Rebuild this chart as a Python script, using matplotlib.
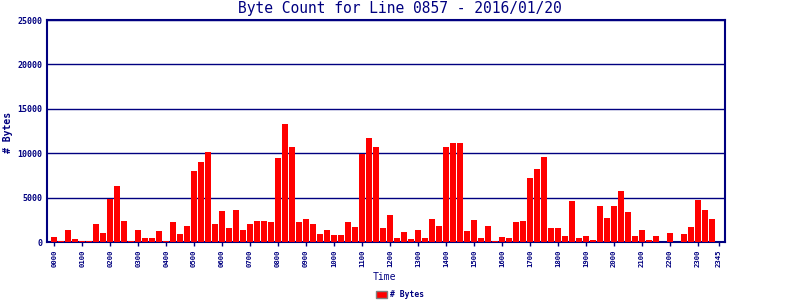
import matplotlib
matplotlib.use('Agg')
import matplotlib.pyplot as plt
from matplotlib.patches import Patch

# 15-minute slots, 0000 .. 2345
times = ['%02d%02d' % (h, m) for h in range(24) for m in (0, 15, 30, 45)]

byte_counts = [
    570, 115, 1410, 380,      # 00
    115, 115, 2060, 1030,     # 01
    4810, 6300, 2400, 115,    # 02
    1410, 500, 500, 1300,     # 03
    115, 2290, 920, 1830,     # 04
    8015, 9050, 10100, 2060,  # 05
    3550, 1600, 3660, 1370,   # 06
    2060, 2400, 2400, 2290,   # 07
    9500, 13280, 10760, 2290, # 08
    2630, 2060, 920, 1370,    # 09
    800, 800, 2290, 1720,     # 10
    9960, 11680, 10760, 1600, # 11
    3090, 460, 1150, 340,     # 12
    1370, 460, 2630, 1830,    # 13
    10760, 11110, 11110, 1260,# 14
    2520, 460, 1830, 115,     # 15
    570, 460, 2290, 2400,     # 16
    7210, 8240, 9620, 1600,   # 17
    1600, 690, 4580, 460,     # 18
    690, 230, 4120, 2750,     # 19
    4120, 5730, 3440, 690,    # 20
    1370, 230, 690, 0,        # 21
    1030, 0, 920, 1720,       # 22
    4690, 3660, 2630, 0,      # 23
]

tick_labels = [t for t in times if t.endswith('00')] + ['2345']
y_ticks = [0, 5000, 10000, 15000, 20000, 25000]

navy = '#000080'
mono = 'DejaVu Sans Mono'

fig = plt.figure(figsize=(8, 3), dpi=100)
ax = fig.add_axes([0.059, 0.193, 0.847, 0.74])

x = list(range(len(times)))
ax.bar(x, byte_counts, width=0.86, color='#ff0000', zorder=3)

ax.set_xlim(-1, 95.86)
ax.set_ylim(0, 25000)
ax.set_yticks(y_ticks)
ax.set_yticklabels([str(v) for v in y_ticks], fontsize=6, family=mono,
                   color=navy, fontweight='bold')
tick_pos = [times.index(t) for t in tick_labels]
ax.set_xticks(tick_pos)
ax.set_xticklabels(tick_labels, rotation=90, fontsize=5.2, family=mono,
                   color=navy, fontweight='bold')
ax.tick_params(axis='y', colors=navy, length=0, pad=3.6)
ax.tick_params(axis='x', colors=navy, length=3, width=1, pad=2)

ax.grid(axis='y', color=navy, linewidth=1, zorder=1)
for s in ax.spines.values():
    s.set_color(navy)
    s.set_linewidth(1.5)

fig.text(0.5, 0.97, 'Byte Count for Line 0857 - 2016/01/20', ha='center',
         va='center', fontsize=10.5, family=mono, color=navy)
fig.text(0.481, 0.077, 'Time', ha='center', va='center', fontsize=7,
         family=mono, color=navy)
fig.text(0.01, 0.56, '# Bytes', ha='center', va='center', rotation=90,
         fontsize=7, family=mono, color=navy, fontweight='bold')

fig.legend(handles=[Patch(facecolor='#ff0000', edgecolor='#808080',
                          label='# Bytes')],
           loc='center', bbox_to_anchor=(0.5, 0.017), frameon=False,
           prop={'family': mono, 'size': 5.8, 'weight': 'bold'},
           handlelength=1.3, handleheight=0.9, handletextpad=0.4,
           labelcolor=navy, borderpad=0)

fig.savefig('out.png', dpi=100)
